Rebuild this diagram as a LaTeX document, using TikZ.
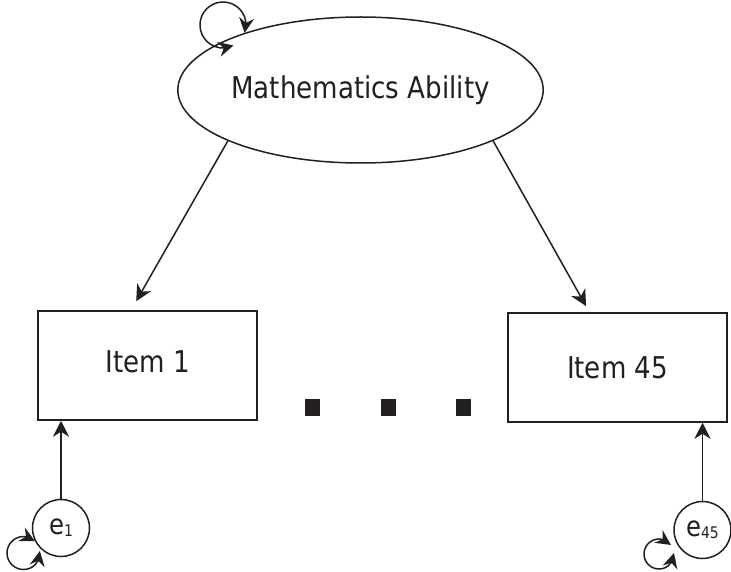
\documentclass[tikz,border=0pt]{standalone}
\usepackage{fontspec}
\setmainfont{DejaVu Sans}[FakeStretch=0.87]
\usetikzlibrary{arrows.meta,shapes.geometric,calc,bending}
\definecolor{ink}{HTML}{231F20}
\begin{document}
\begin{tikzpicture}[x=1pt,y=1pt, line width=1.5pt, color=ink,
  tip/.style={-{Stealth[length=16pt,width=16pt,inset=5pt]}},
  both/.style={{Stealth[length=15pt,width=15pt,inset=5pt]}-{Stealth[length=15pt,width=15pt,inset=5pt]}},
  latent/.style={ellipse, draw, minimum width=296pt, minimum height=146pt, inner sep=0pt, font=\fontsize{30}{36}\selectfont},
  item/.style={rectangle, draw, minimum width=219pt, minimum height=109pt, inner sep=0pt, font=\fontsize{30}{36}\selectfont},
  err/.style={circle, draw, minimum size=57pt, inner sep=0pt, font=\fontsize{28}{30}\selectfont},
  dotbox/.style={rectangle, fill=ink, minimum width=15pt, minimum height=17pt, inner sep=0pt}]
\useasboundingbox (0,0) rectangle (731,571);
\node[latent] (m) at (360.5,481) {Mathematics Ability};
\node[item, text depth=8pt] (b1) at (147.5,205.5) {Item 1\hspace{18pt}};
\node[item] (b2) at (617.5,203.5) {Item 45};
\node[err] (e1) at (61,43) {e\raisebox{-2pt}{\fontsize{16}{16}\selectfont 1}};
\node[err] (e2) at (702.5,41) {e\raisebox{-2pt}{\fontsize{16}{16}\selectfont 45}};
\node[dotbox] (d1) at (312.5,163.5) {};
\node[dotbox] (d2) at (388.5,163.5) {};
\node[dotbox] (d3) at (463.5,163.5) {};
\draw[tip, shorten >=10.5pt] (m.201.8) -- ([xshift=-16.5pt]b1.north);
\draw[tip, shorten >=7pt] (m.339.2) -- ([xshift=-28pt]b2.north);
\draw[tip] (e1) -- (e1 |- b1.south);
\draw[tip] (e2) -- (e2 |- b2.south);
\draw[both] ($(m.center)+(-137.5,65)+(-20:23)$) arc[start angle=-20, end angle=297, radius=23];
\draw[both] ($(e1.center)+(-37.5,-25)+(46:16.5)$) arc[start angle=46, end angle=367, radius=16.5];
\draw[both] ($(e2.center)+(-43.5,-24)+(37:15)$) arc[start angle=37, end angle=364, radius=15];
\end{tikzpicture}
\end{document}
